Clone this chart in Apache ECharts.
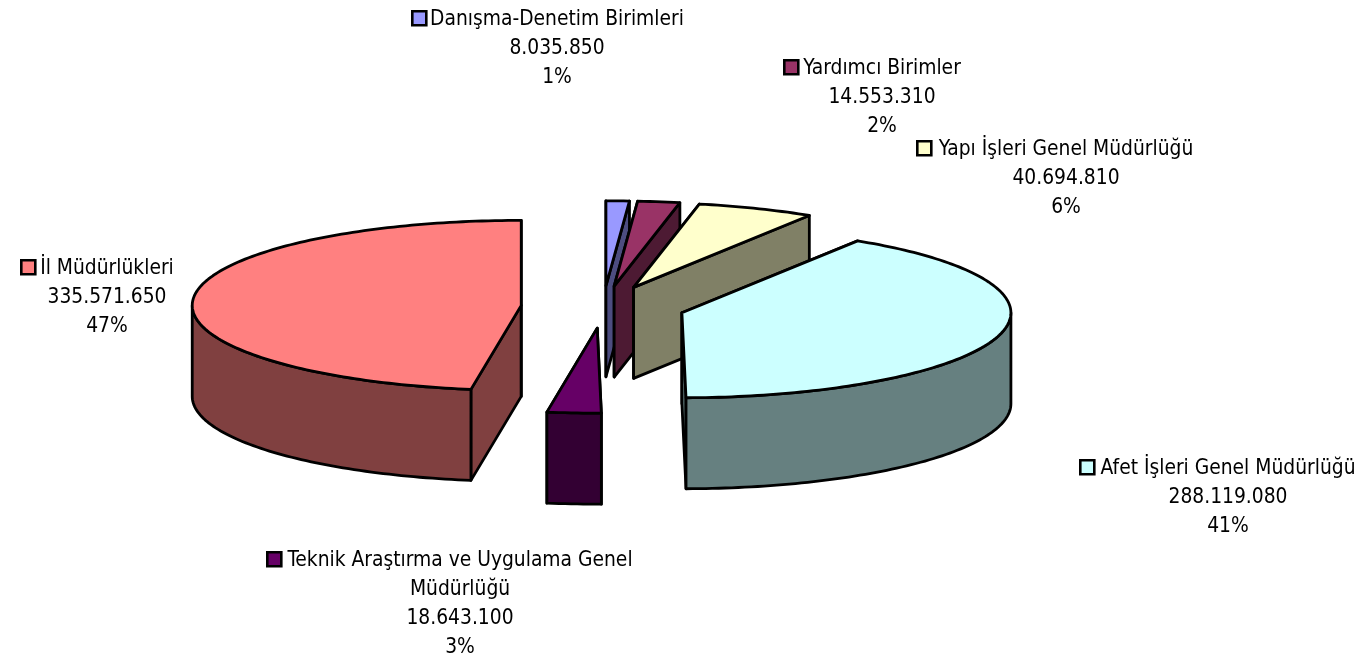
<!DOCTYPE html>
<html><head><meta charset="utf-8">
<style>html,body{margin:0;padding:0;background:#fff}#c{width:1369px;height:662px}</style>
<script src="https://cdn.jsdelivr.net/npm/echarts@6/dist/echarts.min.js"></script>
</head><body><div id="c"></div>
<script>
const categories = ['Danışma-Denetim Birimleri','Yardımcı Birimler','Yapı İşleri Genel Müdürlüğü','Afet İşleri Genel Müdürlüğü','Teknik Araştırma ve Uygulama Genel|Müdürlüğü','İl Müdürlükleri'];
const seriesValues = [8035850,14553310,40694810,288119080,18643100,335571650];
const percentLabels = ['1%','2%','6%','41%','3%','47%'];
const topColors = ['#9999FF','#993366','#FFFFCC','#CCFFFF','#660066','#FF8080'];
const sideColors = ['#4D4D80','#4D1A33','#808066','#668080','#330033','#804040'];
// label layout: text centre x, first-line centre y, legend key left x
const labelCentres = [[557,18,411],[882,67,783],[1066,148,916],[1228,467,1079],[460,559,266],[107,267,20]];

const PIE = {cx:603, cy:307, rx:329, ry:85, depth:91, explode:82};
const FONT = '"DejaVu Sans Condensed", "DejaVu Sans", sans-serif';
const LINE = 29;
const total = seriesValues.reduce((a,b)=>a+b,0);
const dotted = v => String(v).replace(/\B(?=(\d{3})+$)/g,'.');
const cumulative = seriesValues.map((_,i)=>seriesValues.slice(0,i).reduce((a,b)=>a+b,0));

function renderItem(params, api){
  const i = params.dataIndex;
  const value = api.value(0);
  const a0 = cumulative[i]/total*2*Math.PI;
  const a1 = a0 + value/total*2*Math.PI;
  const mid = (a0+a1)/2, k = PIE.ry/PIE.rx;
  const cx = PIE.cx + PIE.explode*Math.sin(mid);
  const cy = PIE.cy - PIE.explode*Math.cos(mid)*k;
  const pt = (t,d)=>[cx+PIE.rx*Math.sin(t), cy-PIE.ry*Math.cos(t)+d];
  const arc = (s,e,d)=>{const n=Math.max(2,Math.ceil((e-s)/0.02)),r=[];for(let j=0;j<=n;j++)r.push(pt(s+(e-s)*j/n,d));return r;};
  const D = PIE.depth, stroke={stroke:'#000',lineWidth:2.8,lineJoin:'round'};
  const poly=(points,fill)=>({type:'polygon',shape:{points},style:Object.assign({fill},stroke)});
  const kids=[];
  [a0,a1].forEach(t=>{
    kids.push(poly([[cx,cy],pt(t,0),pt(t,D),[cx,cy+D]],sideColors[i]));
  });
  const w0=Math.max(a0,Math.PI/2), w1=Math.min(a1,Math.PI*1.5);
  if(w1>w0){
    kids.push(poly(arc(w0,w1,0).concat(arc(w0,w1,D).reverse()),sideColors[i]));
  }
  kids.push(poly([[cx,cy]].concat(arc(a0,a1,0)),topColors[i]));
  const [tx,ty,kx]=labelCentres[i];
  kids.push({type:'rect',shape:{x:kx+1.3,y:ty-6.7,width:14,height:14},style:{fill:topColors[i],stroke:'#000',lineWidth:2.6}});
  const lines=categories[i].split('|').concat([dotted(value),percentLabels[i]]);
  lines.forEach((s,j)=>kids.push({type:'text',style:{text:s,x:tx,y:ty+1.5+j*LINE,align:'center',verticalAlign:'middle',fontFamily:FONT,fontSize:20.8,fill:'#000'}}));
  return {type:'group',children:kids};
}
const chart=echarts.init(document.getElementById('c'),null,{renderer:'canvas'});
chart.setOption({
  animation:false,
  backgroundColor:'#fff',
  series:[{type:'custom',coordinateSystem:'none',silent:true,renderItem,
    data:seriesValues.map((v,i)=>({name:categories[i].replace('|',' '),value:[v]}))}]
});
</script></body></html>
